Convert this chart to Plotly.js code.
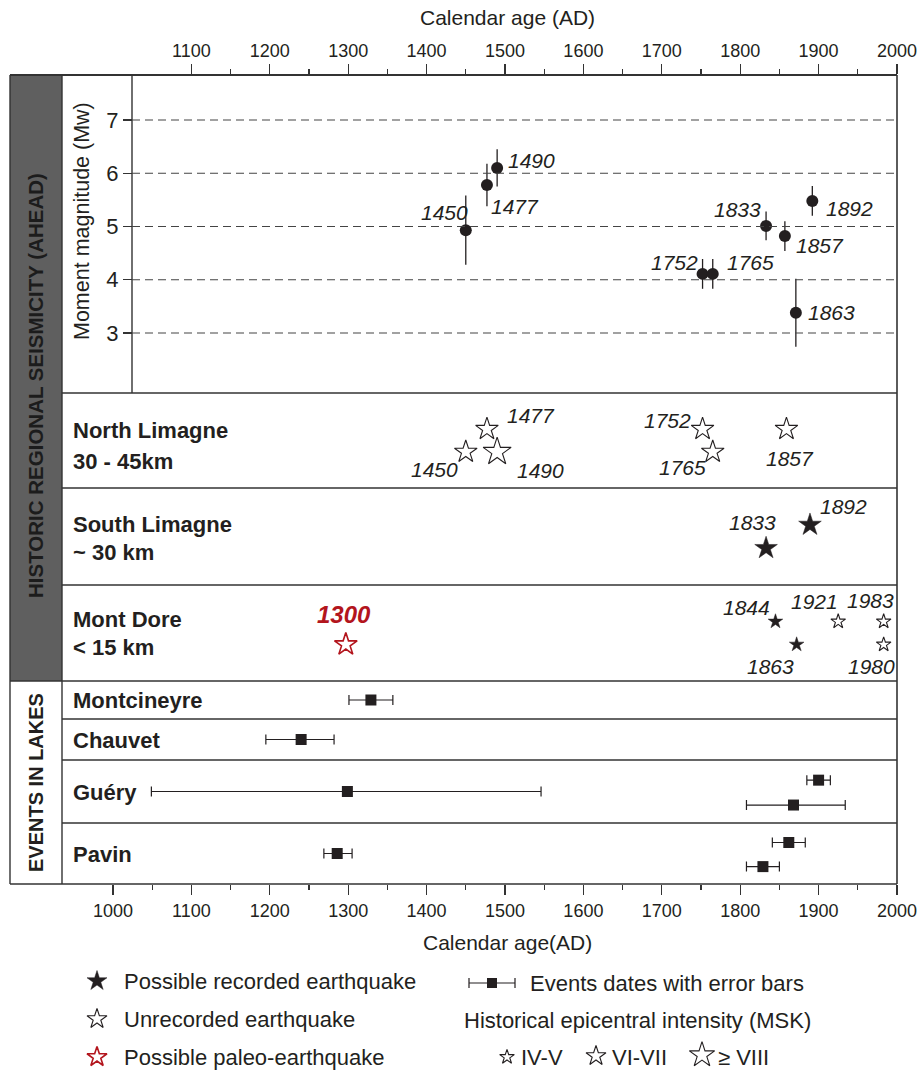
<!DOCTYPE html>
<html><head><meta charset="utf-8">
<script src="https://cdn.plot.ly/plotly-3.0.1.min.js"></script>
<style>html,body{margin:0;padding:0;background:#fff}#chart{width:918px;height:1072px}</style>
</head><body><div id="chart"></div>
<script>
// ---------------- DATA ----------------
// Moment magnitude panel (AHEAD catalogue)
const magLabels = ['1450','1477','1490','1752','1765','1833','1857','1863','1892'];
const magYear   = [1450, 1477, 1490, 1752, 1765, 1833, 1857, 1871, 1892];
const magMw     = [4.93, 5.78, 6.10, 4.11, 4.11, 5.01, 4.82, 3.38, 5.48];
const magErr    = [0.65, 0.40, 0.35, 0.28, 0.28, 0.27, 0.28, 0.64, 0.28];
const magTicks  = [3, 4, 5, 6, 7];

// Historic earthquakes per source zone
const eqPanel     = ['North Limagne','North Limagne','North Limagne','North Limagne','North Limagne','North Limagne',
                     'South Limagne','South Limagne',
                     'Mont Dore','Mont Dore','Mont Dore','Mont Dore','Mont Dore','Mont Dore'];
const eqLabels    = ['1450','1477','1490','1752','1765','1857',
                     '1833','1892',
                     '1300','1844','1863','1921','1983','1980'];
const eqYear      = [1450, 1477, 1490, 1752, 1765, 1859,
                     1833, 1889,
                     1297, 1845, 1872, 1925, 1983, 1983];
const eqType      = ['unrecorded','unrecorded','unrecorded','unrecorded','unrecorded','unrecorded',
                     'recorded','recorded',
                     'paleo','recorded','recorded','unrecorded','unrecorded','unrecorded'];
const eqIntensity = ['VI-VII','VI-VII','≥VIII','VI-VII','VI-VII','VI-VII',
                     'VI-VII','VI-VII',
                     'VI-VII','IV-V','IV-V','IV-V','IV-V','IV-V'];
const eqLane      = ['low','high','low','high','low','high',
                     'low','high',
                     'low','high','low','high','high','low'];

// Events in lakes (dates with error bars)
const lakeEvLake  = ['Montcineyre','Chauvet','Guéry','Guéry','Guéry','Pavin','Pavin','Pavin'];
const lakeEvAge   = [1329, 1240, 1299, 1900, 1868, 1286, 1862, 1829];
const lakeErrMin  = [28, 45, 250, 15, 60, 17, 21, 21];
const lakeErrPlus = [28, 42, 247, 15, 66, 19, 21, 21];
const lakeEvLane  = ['mid','mid','mid','high','low','mid','high','low'];

const topTicks = [1100,1200,1300,1400,1500,1600,1700,1800,1900,2000];
const bottomTicks = [1000,1100,1200,1300,1400,1500,1600,1700,1800,1900,2000];
const minorTicks = [1050,1150,1250,1350,1450,1550,1650,1750,1850,1950];

// ---------------- LAYOUT HELPERS ----------------
const W = 918, H = 1072;
const px = v => v / W;
const py = v => 1 - v / H;
const FONT = 'Liberation Sans, Arial, Helvetica, sans-serif';
const INK = '#231f20';
const RED = '#b3151d';

const panelBounds = {
  'North Limagne': [393, 488], 'South Limagne': [488, 585], 'Mont Dore': [585, 681],
  'Montcineyre': [681, 719], 'Chauvet': [719, 760], 'Guéry': [760, 823], 'Pavin': [823, 884]
};
const seisLane = {high: 0.38, low: 0.62};
const lakeLane = {high: 0.32, mid: 0.5, low: 0.715};
const laneY = (panel, lane, table) => {
  const b = panelBounds[panel];
  return b[0] + table[lane] * (b[1] - b[0]);
};
const starSize = {'IV-V': 11, 'VI-VII': 17, '≥VIII': 21};

// label offsets (dx, dy in px, dy downward)
const magLabelOff = {
  '1450': [-21, -18], '1477': [28, 22], '1490': [34, -7], '1752': [-28, -11], '1765': [38, -11],
  '1833': [-29, -16], '1857': [35, 9], '1863': [36, 0], '1892': [37, 8]
};
const eqLabelOff = {
  'North Limagne|1450': [-31, 18], 'North Limagne|1477': [44, -14], 'North Limagne|1490': [43, 19],
  'North Limagne|1752': [-35, -9], 'North Limagne|1765': [-30, 16], 'North Limagne|1857': [4, 29],
  'South Limagne|1892': [34, -18], 'South Limagne|1833': [-14, -26],
  'Mont Dore|1300': [-2, -30], 'Mont Dore|1844': [-29, -14], 'Mont Dore|1863': [-26, 22],
  'Mont Dore|1921': [-24, -20], 'Mont Dore|1983': [-13, -21], 'Mont Dore|1980': [-12, 22]
};

// ---------------- TRACES ----------------
const traces = [];
// magnitude points
traces.push({
  type: 'scatter', mode: 'markers', xaxis: 'x2', yaxis: 'y',
  x: magYear, y: magMw,
  error_y: {type: 'data', array: magErr, visible: true, width: 0, thickness: 1.3, color: INK},
  marker: {symbol: 'circle', size: 12, color: INK, opacity: 1},
  cliponaxis: false, hoverinfo: 'skip'
});

// earthquake stars
const eqY = eqPanel.map((p, i) => laneY(p, eqLane[i], seisLane));
const styleOf = {
  recorded:   {symbol: 'star', color: INK, opacity: 1, line: {width: 0.5, color: INK}},
  unrecorded: {symbol: 'star-open', color: INK, opacity: 1, line: {width: 1.1, color: INK}},
  paleo:      {symbol: 'star-open', color: RED, opacity: 1, line: {width: 1.6, color: RED}}
};
['recorded', 'unrecorded', 'paleo'].forEach(t => {
  const idx = eqType.map((v, i) => v === t ? i : -1).filter(i => i >= 0);
  traces.push({
    type: 'scatter', mode: 'markers', xaxis: 'x', yaxis: 'y2',
    x: idx.map(i => eqYear[i]), y: idx.map(i => eqY[i]),
    marker: Object.assign({size: idx.map(i => starSize[eqIntensity[i]])}, styleOf[t]),
    cliponaxis: false, hoverinfo: 'skip'
  });
});

// lake events
traces.push({
  type: 'scatter', mode: 'markers', xaxis: 'x', yaxis: 'y2',
  x: lakeEvAge, y: lakeEvLake.map((l, i) => laneY(l, lakeEvLane[i], lakeLane)),
  error_x: {type: 'data', symmetric: false, array: lakeErrPlus, arrayminus: lakeErrMin,
            visible: true, width: 5, thickness: 1.2, color: INK},
  marker: {symbol: 'square', size: 11, color: INK, opacity: 1},
  cliponaxis: false, hoverinfo: 'skip'
});

// legend glyphs (pixel overlay axis)
const lg = (x, y, marker, extra) => traces.push(Object.assign({
  type: 'scatter', mode: 'markers', xaxis: 'x3', yaxis: 'y3', x: [x], y: [y], marker,
  cliponaxis: false, hoverinfo: 'skip'}, extra || {}));
lg(97, 981, Object.assign({size: 15}, styleOf.recorded));
lg(97, 1019, Object.assign({size: 15}, styleOf.unrecorded));
lg(97, 1057, Object.assign({size: 15}, styleOf.paleo));
lg(492, 983, {symbol: 'square', size: 10, color: INK, opacity: 1},
   {error_x: {type: 'data', array: [23], visible: true, width: 5, thickness: 1.2, color: INK}});
lg(507, 1057, Object.assign({size: starSize['IV-V']}, styleOf.unrecorded));
lg(596, 1056, Object.assign({size: 15}, styleOf.unrecorded));
lg(702, 1055, Object.assign({size: 19}, styleOf.unrecorded));

// ---------------- SHAPES ----------------
const shapes = [];
shapes.push({type: 'rect', xref: 'paper', yref: 'paper', x0: px(10), x1: px(62), y0: py(75), y1: py(681),
  fillcolor: '#5f5f5f', line: {width: 0}, layer: 'below'});
const line = (x0, y0, x1, y1, w) => shapes.push({type: 'line', xref: 'paper', yref: 'paper',
  x0: px(x0), y0: py(y0), x1: px(x1), y1: py(y1), line: {color: '#333', width: w || 1.4}});
line(10, 75, 897, 75, 1.8);
line(10, 884, 897, 884, 1.6);
line(10, 75, 10, 884);
line(897, 75, 897, 884, 1.6);
line(62, 75, 62, 884);
line(132, 75, 132, 393);
Object.keys(panelBounds).forEach(k => {
  const b = panelBounds[k][0];
  line(b === 681 ? 10 : 62, b, 897, b);
});
magTicks.forEach(v => shapes.push({type: 'line', xref: 'paper', yref: 'y', x0: px(132), x1: px(897),
  y0: v, y1: v, line: {color: '#444', width: 1.1, dash: '8px,5px'}}));

// ---------------- ANNOTATIONS ----------------
const ann = [];
const txt = (text, x, y, opt) => ann.push(Object.assign({text, x: px(x), y: py(y), xref: 'paper', yref: 'paper',
  showarrow: false, xanchor: 'left', yanchor: 'middle', font: {family: FONT, size: 22, color: INK}}, opt || {}));

// magnitude labels
magLabels.forEach((l, i) => {
  const o = magLabelOff[l];
  ann.push({text: '<i>' + l + '</i>', x: magYear[i], y: magMw[i], xref: 'x2', yref: 'y', showarrow: false,
    xanchor: 'center', yanchor: 'middle', xshift: o[0], yshift: -o[1], font: {family: FONT, size: 21, color: INK}});
});
// earthquake labels
eqLabels.forEach((l, i) => {
  const o = eqLabelOff[eqPanel[i] + '|' + l];
  const paleo = eqType[i] === 'paleo';
  ann.push({text: paleo ? '<b><i>' + l + '</i></b>' : '<i>' + l + '</i>', x: eqYear[i], y: eqY[i], xref: 'x', yref: 'y2',
    showarrow: false, xanchor: 'center', yanchor: 'middle', xshift: o[0], yshift: -o[1],
    font: {family: FONT, size: paleo ? 24 : 21, color: paleo ? RED : INK}});
});

// panel labels
const B = s => '<b>' + s + '</b>';
txt(B('North Limagne'), 71, 430); txt(B('30 - 45km'), 71, 461);
txt(B('South Limagne'), 71, 524); txt(B('~ 30 km'), 71, 552);
txt(B('Mont Dore'), 71, 619); txt(B('< 15 km'), 71, 647);
txt(B('Montcineyre'), 71, 700); txt(B('Chauvet'), 71, 740);
txt(B('Guéry'), 71, 792); txt(B('Pavin'), 71, 854);

// side headers
txt(B('HISTORIC REGIONAL SEISMICITY (AHEAD)'), 36, 386, {xanchor: 'center', textangle: -90,
  font: {family: FONT, size: 20.5, color: '#1c1c1c'}});
txt(B('EVENTS IN LAKES'), 36, 783, {xanchor: 'center', textangle: -90,
  font: {family: FONT, size: 20, color: INK}});
txt('Moment magnitude (Mw)', 82, 221, {xanchor: 'center', textangle: -90,
  font: {family: FONT, size: 21.5, color: INK}});

// axis titles
txt('Calendar age (AD)', 507, 18, {xanchor: 'center', font: {family: FONT, size: 21, color: INK}});
txt('Calendar age(AD)', 507, 942, {xanchor: 'center', font: {family: FONT, size: 21, color: INK}});

// legend text
txt('Possible recorded earthquake', 122, 981);
txt('Unrecorded earthquake', 122, 1019);
txt('Possible paleo-earthquake', 122, 1057);
txt('Events dates with error bars', 528, 983);
txt('Historical epicentral intensity (MSK)', 462, 1020);
txt('IV-V', 519, 1057);
txt('VI-VII', 610, 1057);
txt('≥ VIII', 716, 1057);

// ---------------- LAYOUT ----------------
const xr = [935, 2000];
const xdom = [px(62), px(897)];
const tickfont = {family: FONT, size: 18, color: INK};
const layout = {
  width: W, height: H, margin: {l: 0, r: 0, t: 0, b: 0},
  paper_bgcolor: '#fff', plot_bgcolor: 'rgba(0,0,0,0)',
  showlegend: false, hovermode: false,
  font: {family: FONT, color: INK},
  xaxis: {domain: xdom, range: xr, anchor: 'y2', side: 'bottom', tickvals: bottomTicks,
    ticks: 'outside', ticklen: 10, tickwidth: 1.3, tickcolor: '#333', tickfont,
    minor: {tickvals: minorTicks, ticks: 'outside', ticklen: 5, tickwidth: 1.2, tickcolor: '#333'},
    showline: false, showgrid: false, zeroline: false, fixedrange: true},
  xaxis2: {domain: xdom, range: xr, anchor: 'y', side: 'top', tickvals: topTicks,
    ticks: 'outside', ticklen: 10, tickwidth: 1.3, tickcolor: '#333', tickfont,
    minor: {tickvals: minorTicks.slice(1), ticks: 'outside', ticklen: 5, tickwidth: 1.2, tickcolor: '#333'},
    showline: false, showgrid: false, zeroline: false, fixedrange: true},
  yaxis: {domain: [py(393), py(75)], range: [1.873, 7.845], anchor: 'free', position: px(132),
    tickvals: magTicks, ticks: 'outside', ticklen: 9, tickwidth: 1.3, tickcolor: '#333',
    tickfont: {family: FONT, size: 22, color: INK},
    showline: false, showgrid: false, zeroline: false, fixedrange: true},
  yaxis2: {domain: [py(884), py(393)], range: [884, 393], anchor: 'x', visible: false, fixedrange: true},
  xaxis3: {domain: [0, 1], range: [0, W], anchor: 'y3', visible: false, fixedrange: true},
  yaxis3: {domain: [0, 1], range: [H, 0], anchor: 'x3', visible: false, fixedrange: true},
  shapes, annotations: ann
};
Plotly.newPlot('chart', traces, layout, {displayModeBar: false, staticPlot: true});
</script></body></html>
